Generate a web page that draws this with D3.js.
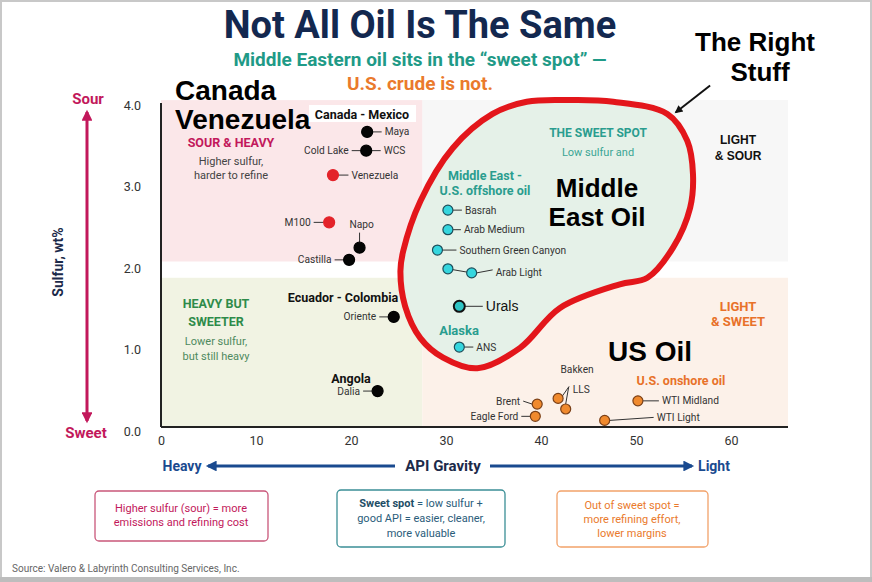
<!DOCTYPE html>
<html>
<head>
<meta charset="utf-8">
<script src="https://cdn.jsdelivr.net/npm/d3@7"></script>
<style>
  html, body { margin: 0; padding: 0; background: #fff; }
  svg text { font-family: "Liberation Sans Narrow", "Roboto", sans-serif; }
</style>
</head>
<body>
<div id="chart"></div>
<script>
// crude oils: API gravity vs sulfur content
const crudeNames = ["Maya", "Cold Lake", "WCS", "Venezuela", "M100", "Napo", "Castilla",
  "Oriente", "Dalia", "Basrah", "Arab Medium", "Southern Green Canyon", "", "Arab Light",
  "Urals", "ANS", "Brent", "Eagle Ford", "Bakken", "LLS", "WTI Midland", "WTI Light"];
const apiGravity = [21.7, 21.6, 21.6, 18.1, 17.7, 20.9, 19.8, 24.5, 22.8, 30.2, 30.2, 29.1,
  30.2, 32.7, 31.4, 31.4, 39.6, 39.4, 41.8, 42.6, 50.2, 46.7];
const sulfurPct = [3.67, 3.44, 3.44, 3.14, 2.56, 2.25, 2.10, 1.40, 0.49, 2.71, 2.47, 2.22,
  1.99, 1.94, 1.53, 1.03, 0.33, 0.18, 0.40, 0.27, 0.37, 0.13];
const crudeGroup = ["heavy", "heavy", "heavy", "venez", "venez", "heavy", "heavy", "heavy",
  "heavy", "sweet", "sweet", "sweet", "sweet", "sweet", "urals", "sweet", "us", "us", "us",
  "us", "us", "us"];

const xTicks = [0, 10, 20, 30, 40, 50, 60];
const yTicks = [0, 1, 2, 3, 4];

// "sweet spot" outline, in API / sulfur units
const blobApi = [34.9, 38.5, 43.1, 47.6, 53.3, 55.4, 56.0, 55.7, 53.9, 51.2, 48.3, 42.0,
  37.8, 33.3, 29.7, 27.3, 25.7, 25.2, 25.5, 27.3, 30.7];
const blobSulfur = [3.89, 4.04, 4.06, 4.04, 3.89, 3.56, 3.15, 2.74, 2.25, 1.88, 1.80, 1.51,
  1.02, 0.77, 0.90, 1.14, 1.53, 1.96, 2.21, 2.82, 3.47];

const W = 872, H = 582;
const x = d3.scaleLinear().domain([0, 66]).range([161, 788]);
const y = d3.scaleLinear().domain([0, 4]).range([431, 105]);

const svg = d3.select("#chart").append("svg")
  .attr("width", W).attr("height", H);

const defs = svg.append("defs");
function marker(id, color, w, h) {
  defs.append("marker")
    .attr("id", id).attr("viewBox", "0 0 10 10")
    .attr("refX", 8).attr("refY", 5)
    .attr("markerWidth", w).attr("markerHeight", h)
    .attr("orient", "auto-start-reverse")
    .append("path").attr("d", "M0,0 L10,5 L0,10 Z").attr("fill", color);
}
marker("headPink", "#c2185b", 4, 3.6);
marker("headNavy", "#1a4a8f", 4.2, 3.6);
marker("headBlack", "#111", 5, 4);

// frame
svg.append("rect").attr("x", 1).attr("y", 1).attr("width", W - 2).attr("height", H - 2)
  .attr("fill", "#fff").attr("stroke", "#c8c8c8").attr("stroke-width", 2);
svg.append("rect").attr("x", 0).attr("y", 577).attr("width", W).attr("height", 5).attr("fill", "#bdbdbd");

// quadrant backgrounds
const splitApi = 27.5;
svg.append("rect").attr("x", x(splitApi)).attr("y", y(4.06))
  .attr("width", x(66) - x(splitApi)).attr("height", y(2.08) - y(4.06)).attr("fill", "#f7f7f7");
svg.append("rect").attr("x", x(0)).attr("y", y(4.06))
  .attr("width", x(splitApi) - x(0)).attr("height", y(2.08) - y(4.06)).attr("fill", "#fbe7e9");
svg.append("rect").attr("x", x(0)).attr("y", y(1.88))
  .attr("width", x(splitApi) - x(0)).attr("height", y(0.05) - y(1.88)).attr("fill", "#f1f3e3");
svg.append("rect").attr("x", x(splitApi)).attr("y", y(1.88))
  .attr("width", x(66) - x(splitApi)).attr("height", y(0.05) - y(1.88)).attr("fill", "#fcf1e9");

// sweet spot blob
const blobPts = blobApi.map((a, i) => [x(a), y(blobSulfur[i])]);
svg.append("path")
  .attr("d", d3.line().curve(d3.curveCatmullRomClosed.alpha(0.5))(blobPts))
  .attr("fill", "#e5f1e8").attr("stroke", "#e3161b").attr("stroke-width", 6);

// axes
svg.append("line").attr("x1", x(0)).attr("x2", x(0)).attr("y1", 103).attr("y2", 427)
  .attr("stroke", "#222").attr("stroke-width", 2);
svg.append("line").attr("x1", x(0)).attr("x2", x(66)).attr("y1", 427).attr("y2", 427)
  .attr("stroke", "#222").attr("stroke-width", 2);

const gx = svg.append("g").attr("transform", "translate(0,433)")
  .call(d3.axisBottom(x).tickValues(xTicks).tickSize(0).tickFormat(d3.format("d")));
gx.select(".domain").remove();
gx.selectAll("text").attr("font-size", 12.5).attr("fill", "#333")
  .style("font-family", "Roboto, sans-serif");

const gy = svg.append("g").attr("transform", "translate(144,0)")
  .call(d3.axisLeft(y).tickValues(yTicks).tickSize(0).tickFormat(d3.format(".1f")));
gy.select(".domain").remove();
gy.selectAll("text").attr("font-size", 12.5).attr("fill", "#333")
  .style("font-family", "Roboto, sans-serif");

// sulfur arrow
svg.append("line").attr("x1", 87).attr("x2", 87).attr("y1", 112).attr("y2", 421)
  .attr("stroke", "#c2185b").attr("stroke-width", 3)
  .attr("marker-start", "url(#headPink)").attr("marker-end", "url(#headPink)");
function txt(t, px, py, o) {
  o = o || {};
  const el = svg.append("text").attr("x", px).attr("y", py).text(t)
    .attr("font-size", o.size || 11).attr("fill", o.color || "#333")
    .attr("text-anchor", o.anchor || "middle")
    .attr("font-weight", o.weight || "normal");
  if (o.family) el.style("font-family", o.family);
  if (o.rotate) el.attr("transform", `rotate(${o.rotate},${px},${py})`);
  return el;
}
const ARIAL = "'Liberation Sans', Arial, sans-serif";
txt("Sour", 88, 104, { size: 15, color: "#c2185b", weight: "bold", family: "Roboto, sans-serif" });
txt("Sweet", 86, 438, { size: 15, color: "#c2185b", weight: "bold", family: "Roboto, sans-serif" });
txt("Sulfur, wt%", 63, 262, { size: 14, color: "#1c2a4a", weight: "bold", rotate: -90, family: "Roboto, sans-serif" });

// API arrow
svg.append("line").attr("x1", 395).attr("x2", 208).attr("y1", 466).attr("y2", 466)
  .attr("stroke", "#1a4a8f").attr("stroke-width", 3).attr("marker-end", "url(#headNavy)");
svg.append("line").attr("x1", 490).attr("x2", 692).attr("y1", 466).attr("y2", 466)
  .attr("stroke", "#1a4a8f").attr("stroke-width", 3).attr("marker-end", "url(#headNavy)");
txt("Heavy", 182, 471, { size: 14, color: "#1a4a8f", weight: "bold" });
txt("Light", 714, 471, { size: 14, color: "#1a4a8f", weight: "bold" });
txt("API Gravity", 443, 471, { size: 15, color: "#1c2a4a", weight: "bold" });

// title
txt("Not All Oil Is The Same", 420, 38, { size: 38, color: "#13284f", weight: "bold" });
txt("Middle Eastern oil sits in the \u201csweet spot\u201d \u2014", 420, 66, { size: 19, color: "#1f9a87", weight: "bold" });
txt("U.S. crude is not.", 420, 90, { size: 19, color: "#ea7a2c", weight: "bold" });

// quadrant notes
txt("SOUR & HEAVY", 231, 147, { size: 12.5, color: "#c2185b", weight: "bold", family: "Roboto, sans-serif" });
txt("Higher sulfur,", 231, 165, { size: 11, color: "#444" });
txt("harder to refine", 231, 179, { size: 11, color: "#444" });
txt("HEAVY BUT", 216, 308, { size: 12.5, color: "#2e8b4a", weight: "bold", family: "Roboto, sans-serif" });
txt("SWEETER", 216, 326, { size: 12.5, color: "#2e8b4a", weight: "bold", family: "Roboto, sans-serif" });
txt("Lower sulfur,", 216, 345, { size: 11, color: "#4e8a5e" });
txt("but still heavy", 216, 360, { size: 11, color: "#4e8a5e" });
txt("THE SWEET SPOT", 598, 137, { size: 12, color: "#2a9d8f", weight: "bold", family: "Roboto, sans-serif" });
txt("Low sulfur and", 598, 156, { size: 11, color: "#3aa594", family: "Roboto, sans-serif" });
txt("LIGHT", 738, 144, { size: 12, color: "#111", weight: "bold", family: ARIAL });
txt("& SOUR", 738, 160, { size: 12, color: "#111", weight: "bold", family: ARIAL });
txt("LIGHT", 738, 311, { size: 13, color: "#e8722a", weight: "bold", family: "Roboto, sans-serif" });
txt("& SWEET", 738, 326, { size: 13, color: "#e8722a", weight: "bold", family: "Roboto, sans-serif" });

// group headers
svg.append("rect").attr("x", 309).attr("y", 105).attr("width", 107).attr("height", 17).attr("fill", "#fff");
txt("Canada - Mexico", 362, 119, { size: 12.5, color: "#111", weight: "bold", family: "Roboto, sans-serif" });
txt("Ecuador - Colombia", 343, 302, { size: 12.5, color: "#111", weight: "bold", family: "Roboto, sans-serif" });
txt("Angola", 351, 383, { size: 12.5, color: "#111", weight: "bold", family: "Roboto, sans-serif" });
txt("Middle East -", 485, 180, { size: 12.5, color: "#2a9d8f", weight: "bold", family: "Roboto, sans-serif" });
txt("U.S. offshore oil", 485, 195, { size: 12.5, color: "#2a9d8f", weight: "bold", family: "Roboto, sans-serif" });
txt("Alaska", 459, 335, { size: 13, color: "#2a9d8f", weight: "bold", family: "Roboto, sans-serif" });
txt("U.S. onshore oil", 681, 385, { size: 12.5, color: "#e8722a", weight: "bold", family: "Roboto, sans-serif" });

// big annotations
txt("Canada", 175, 100, { size: 28, color: "#000", weight: "bold", anchor: "start", family: ARIAL });
txt("Venezuela", 175, 129, { size: 28, color: "#000", weight: "bold", anchor: "start", family: ARIAL });
txt("The Right", 755, 51, { size: 26, color: "#000", weight: "bold", family: ARIAL });
txt("Stuff", 760, 81, { size: 26, color: "#000", weight: "bold", family: ARIAL });
txt("Middle", 597, 197, { size: 26, color: "#000", weight: "bold", family: ARIAL });
txt("East Oil", 597, 226, { size: 26, color: "#000", weight: "bold", family: ARIAL });
txt("US Oil", 650, 361, { size: 28, color: "#000", weight: "bold", family: ARIAL });

svg.append("line")
  .attr("x1", x(57.8)).attr("y1", y(4.24)).attr("x2", x(54.2)).attr("y2", y(3.91))
  .attr("stroke", "#111").attr("stroke-width", 2).attr("marker-end", "url(#headBlack)");

// points
const crudes = crudeNames.map((n, i) => ({ name: n, api: apiGravity[i], s: sulfurPct[i], g: crudeGroup[i] }));
const styleFor = {
  heavy: { fill: "#050505", stroke: "#000", r: 5.5 },
  venez: { fill: "#e3232a", stroke: "#e3232a", r: 5.5 },
  sweet: { fill: "#35d6de", stroke: "#1d4e5a", r: 5 },
  urals: { fill: "#2fc4c4", stroke: "#111", r: 5.5 },
  us: { fill: "#f08a2e", stroke: "#7a4018", r: 5 }
};
// label side: r = right, l = left, u = up
const labelSide = {
  "Maya": "r", "Cold Lake": "l", "WCS": "r", "Venezuela": "r", "M100": "l", "Napo": "u",
  "Castilla": "l", "Oriente": "l", "Dalia": "l", "Basrah": "r", "Arab Medium": "r",
  "Southern Green Canyon": "r", "Arab Light": "r", "Urals": "r", "ANS": "r", "Brent": "l",
  "Eagle Ford": "l", "Bakken": "u", "LLS": "u", "WTI Midland": "r", "WTI Light": "r"
};
const leaderLen = { "Urals": 18, "WTI Light": 44, "WTI Midland": 16, "Arab Light": 16,
  "Southern Green Canyon": 14, "Arab Medium": 8, "Venezuela": 10, "M100": 10 };

const lbl = svg.append("g");
// link between the two Arab Light dots
lbl.append("line")
  .attr("x1", x(apiGravity[12])).attr("y1", y(sulfurPct[12]))
  .attr("x2", x(apiGravity[13])).attr("y2", y(sulfurPct[13]))
  .attr("stroke", "#333").attr("stroke-width", 1);

crudes.forEach((d) => {
  const side = labelSide[d.name];
  if (!side) return;
  const cx = x(d.api), cy = y(d.s), r = styleFor[d.g].r;
  const len = leaderLen[d.name] || 9;
  const big = d.name === "Urals";
  const fs = big ? 14 : 10.2;
  const col = big ? "#111" : "#333";
  const fam = big ? ARIAL : null;
  if (side === "r") {
    lbl.append("line").attr("x1", cx + r).attr("x2", cx + r + len).attr("y1", cy).attr("y2", cy + (d.name === "Arab Light" || d.name === "WTI Light" ? -3 : 0))
      .attr("stroke", "#333").attr("stroke-width", 1);
    txt(d.name, cx + r + len + 3, cy + (big ? 5 : 3.5) + (d.name === "WTI Light" ? -3 : 0), { size: fs, color: col, anchor: "start", family: fam });
  } else if (side === "l") {
    lbl.append("line").attr("x1", cx - r).attr("x2", cx - r - len).attr("y1", cy).attr("y2", cy - (d.name === "Brent" ? 3 : 0))
      .attr("stroke", "#333").attr("stroke-width", 1);
    txt(d.name, cx - r - len - 3, cy + 3.5 - (d.name === "Brent" ? 3 : 0), { size: fs, color: col, anchor: "end" });
  } else if (d.name === "Napo") {
    lbl.append("line").attr("x1", cx).attr("x2", cx).attr("y1", cy - r).attr("y2", cy - 15)
      .attr("stroke", "#333").attr("stroke-width", 1);
    txt(d.name, cx + 2, cy - 20, { size: fs, color: col });
  } else if (d.name === "Bakken") {
    lbl.append("line").attr("x1", cx + r - 1).attr("y1", cy - 2).attr("x2", cx + 11).attr("y2", cy - 12)
      .attr("stroke", "#333").attr("stroke-width", 1);
    txt(d.name, cx + 19, cy - 25, { size: fs, color: col });
  } else if (d.name === "LLS") {
    lbl.append("line").attr("x1", cx).attr("y1", cy - r).attr("x2", cx + 3).attr("y2", cy - 22)
      .attr("stroke", "#333").attr("stroke-width", 1);
    txt(d.name, cx + 7, cy - 16, { size: fs, color: col, anchor: "start" });
  }
});

svg.append("g").selectAll("circle")
  .data(crudes.filter((d) => d.name !== "Cold Lake"))
  .enter().append("circle")
  .attr("cx", (d) => x(d.api)).attr("cy", (d) => y(d.s))
  .attr("r", (d) => styleFor[d.g].r)
  .attr("fill", (d) => styleFor[d.g].fill)
  .attr("stroke", (d) => styleFor[d.g].stroke)
  .attr("stroke-width", (d) => (d.g === "urals" ? 2 : 1.2));

// bottom note boxes
function noteBox(x0, y0, w, h, stroke) {
  svg.append("rect").attr("x", x0).attr("y", y0).attr("width", w).attr("height", h)
    .attr("rx", 4).attr("fill", "#fff").attr("stroke", stroke).attr("stroke-width", 1.3);
}
noteBox(95, 491, 173, 50, "#c9577a");
noteBox(337, 490, 168, 57, "#3b8f96");
noteBox(557, 491, 151, 56, "#f2a26a");
txt("Higher sulfur (sour) = more", 181, 512, { size: 11, color: "#c2185b" });
txt("emissions and refining cost", 181, 526, { size: 11, color: "#c2185b" });
const sw = txt("", 421, 507, { size: 11, color: "#2a5c7a" });
sw.append("tspan").attr("font-weight", "bold").attr("fill", "#1e4e66").text("Sweet spot");
sw.append("tspan").text(" = low sulfur +");
txt("good API = easier, cleaner,", 421, 522, { size: 11, color: "#2a5c7a" });
txt("more valuable", 421, 537, { size: 11, color: "#2a5c7a" });
txt("Out of sweet spot =", 632, 509, { size: 11, color: "#ea7a2c" });
txt("more refining effort,", 632, 523, { size: 11, color: "#ea7a2c" });
txt("lower margins", 632, 537, { size: 11, color: "#ea7a2c" });

txt("Source: Valero & Labyrinth Consulting Services, Inc.", 12, 572, { size: 10, color: "#666", anchor: "start" });
</script>
</body>
</html>
